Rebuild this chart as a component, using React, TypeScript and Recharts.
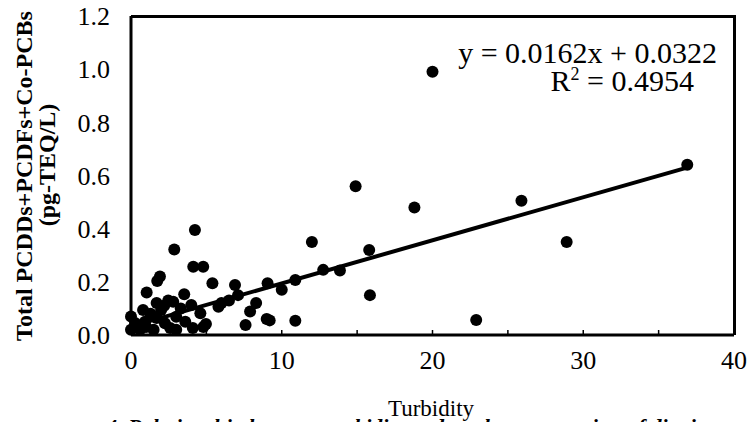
import { ScatterChart, Scatter, XAxis, YAxis, ReferenceLine, Customized } from 'recharts'

// turbidity (x) and total PCDDs+PCDFs+Co-PCBs in pg-TEQ/L (y)
const turbidity = [
  20, 36.9, 14.9, 18.8, 25.9, 28.9, 22.9, 15.8, 15.85, 12, 12.75, 13.86, 10.9, 10.9, 10, 9.06, 9.0, 9.2,
  8.3, 7.9, 7.6, 7.1, 6.9, 6.0, 5.8, 6.5, 5.4, 4.97, 4.24, 2.87, 4.13, 4.79, 1.92, 1.74, 1.04, 3.53,
  2.47, 1.7, 2.8, 4.0, 0.8, 2.0, 0, 0.27, 0.93, 1.7, 2.25, 3.0, 3.6, 4.6, 0, 0.6, 1.5, 2.6, 3.0, 4.1,
  4.8, 3.3, 2.2, 1.3, 0.3, 1.0,
]
const teq = [
  0.99, 0.64, 0.56, 0.48, 0.505, 0.35, 0.056, 0.32, 0.15, 0.35, 0.245, 0.243, 0.207, 0.054, 0.17, 0.195, 0.06, 0.055,
  0.12, 0.088, 0.038, 0.15, 0.188, 0.12, 0.106, 0.13, 0.195, 0.041, 0.395, 0.322, 0.257, 0.257, 0.22, 0.203, 0.16, 0.153,
  0.13, 0.12, 0.125, 0.113, 0.094, 0.094, 0.07, 0.045, 0.05, 0.064, 0.044, 0.069, 0.05, 0.082, 0.02, 0.02, 0.02, 0.026, 0.02, 0.026,
  0.03, 0.1, 0.11, 0.08, 0.03, 0.03,
]

// linear fit y = 0.0162x + 0.0322, endpoints
const trendX = [0, 37]
const trendY = [0.0322, 0.6316]

const xTicks = [0, 5, 10, 15, 20, 25, 30, 35, 40]
const yTicks = [0, 0.2, 0.4, 0.6, 0.8, 1.0, 1.2]

const points = turbidity.map((x, i) => ({ x, y: teq[i] }))
const trend = trendX.map((x, i) => ({ x, y: trendY[i] }))

const serif = '"Liberation Serif", "Times New Roman", serif'
const axisStroke = { stroke: '#000', strokeWidth: 3 }

// chart box
const W = 750
const H = 422
const M = { top: 16, right: 16, bottom: 0, left: 0 }
const Y_W = 131
const X_H = 87

function Texts() {
  return (
    <g fontFamily={serif} fill="#000">
      <text x={717} y={63} textAnchor="end" fontSize={30}>y = 0.0162x + 0.0322</text>
      <text x={694} y={91} textAnchor="end" fontSize={30}>
        R<tspan dy={-11} fontSize={18}>2</tspan><tspan dy={11}> = 0.4954</tspan>
      </text>
      <text x={24} y={176} transform="rotate(-90 24 176)" textAnchor="middle" dominantBaseline="central" fontSize={24} fontWeight="bold">
        Total PCDDs+PCDFs+Co-PCBs
      </text>
      <text x={47} y={165} transform="rotate(-90 47 165)" textAnchor="middle" dominantBaseline="central" fontSize={24} fontWeight="bold">
        (pg-TEQ/L)
      </text>
      <text x={106} y={434} fontSize={22} fontStyle="italic" fontWeight="bold">
        4. Relationship between turbidity and total concentration of dioxins
      </text>
      <text x={431} y={416} textAnchor="middle" fontSize={23}>Turbidity</text>
    </g>
  )
}

export default function App() {
  const plotW = W - M.left - M.right - Y_W
  const plotH = H - M.top - M.bottom - X_H
  return (
    <div style={{ position: 'absolute', left: 0, top: 0, width: W, height: H, background: '#fff' }}>
      <ScatterChart width={W} height={H} margin={M}>
        <XAxis
          type="number"
          dataKey="x"
          domain={[0, 40]}
          ticks={xTicks}
          tickFormatter={(v: number) => (v % 10 === 0 ? String(v) : '')}
          height={X_H}
          tickSize={-5}
          tickMargin={21}
          axisLine={axisStroke}
          tickLine={{ stroke: '#000', strokeWidth: 1.5 }}
          tick={{ fill: '#000', fontSize: 26, fontFamily: serif }}
          interval={0}
        />
        <YAxis
          type="number"
          dataKey="y"
          domain={[0, 1.2]}
          ticks={yTicks}
          tickFormatter={(v: number) => v.toFixed(1)}
          width={Y_W}
          tickSize={0}
          tickMargin={21}
          tickLine={false}
          axisLine={axisStroke}
          tick={{ fill: '#000', fontSize: 26, fontFamily: serif }}
          interval={0}
        />
        <ReferenceLine segment={[trend[0], trend[1]]} stroke="#000" strokeWidth={4} />
        <Scatter
          data={points}
          isAnimationActive={false}
          shape={(p: any) => <circle cx={p.cx} cy={p.cy} r={6} fill="#000" />}
        />
        <Customized component={<Texts />} />
      </ScatterChart>
      {/* top and right edges of the plot frame */}
      <div
        style={{
          position: 'absolute',
          left: M.left + Y_W,
          top: M.top - 1.5,
          width: plotW + 1.5,
          height: plotH + 1.5,
          boxSizing: 'border-box',
          borderTop: '3px solid #000',
          borderRight: '3px solid #000',
          pointerEvents: 'none',
        }}
      />
    </div>
  )
}
